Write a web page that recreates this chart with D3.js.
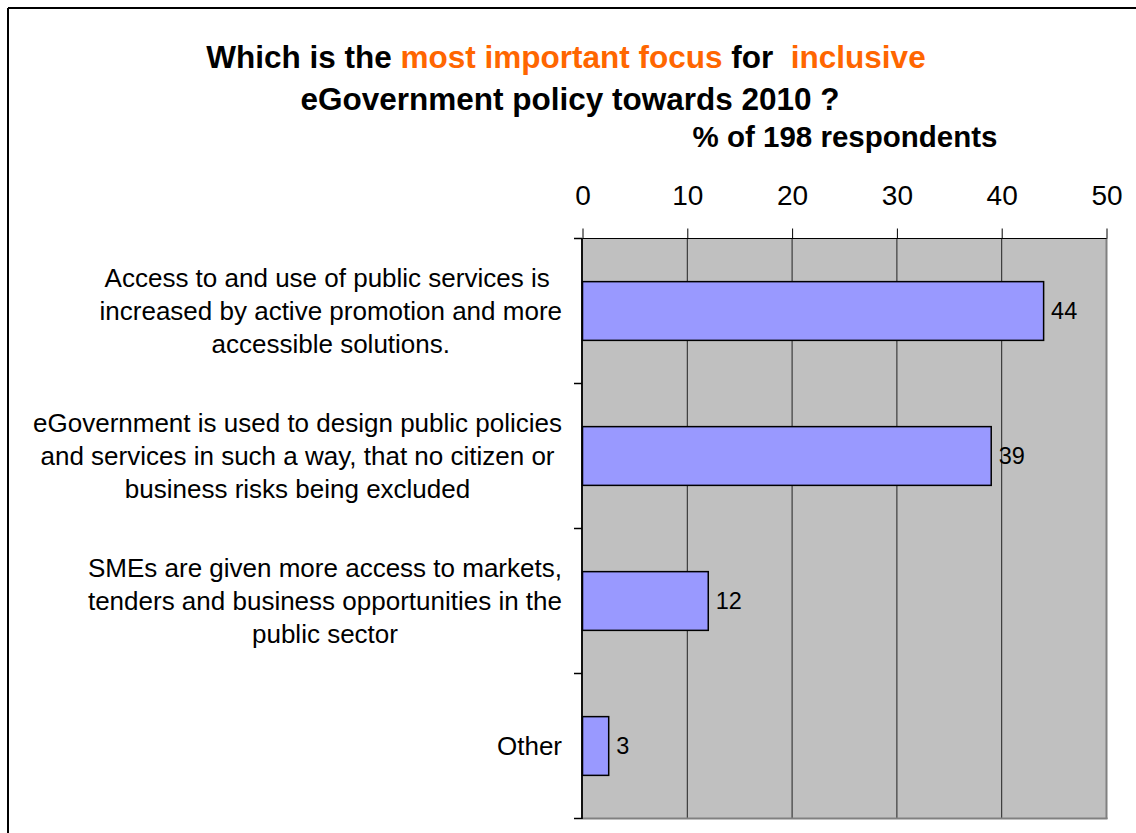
<!DOCTYPE html>
<html>
<head>
<meta charset="utf-8">
<script src="https://cdn.jsdelivr.net/npm/d3@7"></script>
<style>
  html, body { margin: 0; padding: 0; background: #fff; }
  svg { display: block; font-family: Arial, "Liberation Sans", sans-serif; }
</style>
</head>
<body>
<svg id="chart" width="1136" height="833"></svg>
<script>
const categories = [
  ["Access to and use of public services is ", "increased by active promotion and more", "accessible solutions."],
  ["eGovernment is used to design public policies", "and services in such a way, that no citizen or", "business risks being excluded"],
  ["SMEs are given more access to markets,", "tenders and business opportunities in the", "public sector"],
  ["Other"]
];
const values = [44, 39, 12, 2.5];
const xTicks = [0, 10, 20, 30, 40, 50];
const titleLine1 = [
  {text: "Which is the ", orange: false},
  {text: "most important focus", orange: true},
  {text: " for  ", orange: false},
  {text: "inclusive", orange: true}
];
const titleLine2 = "eGovernment policy towards 2010 ?";
const axisTitle = "% of 198 respondents";

const svg = d3.select("#chart");
const W = 1136, H = 833;
const plot = {left: 582, right: 1106, top: 238, bottom: 818};

// outer frame (top and left edges visible)
svg.append("line").attr("x1", 8).attr("x2", W).attr("y1", 8).attr("y2", 8)
  .attr("stroke", "#000").attr("stroke-width", 2);
svg.append("line").attr("x1", 8).attr("x2", 8).attr("y1", 8).attr("y2", H)
  .attr("stroke", "#000").attr("stroke-width", 2);

// title
const t1 = svg.append("text").attr("x", 566).attr("y", 68).attr("text-anchor", "middle")
  .attr("font-weight", "bold").attr("font-size", 31.5).attr("xml:space", "preserve");
titleLine1.forEach(p => t1.append("tspan").text(p.text).attr("fill", p.orange ? "#FF6600" : "#000"));
svg.append("text").attr("x", 570).attr("y", 110).attr("text-anchor", "middle")
  .attr("font-weight", "bold").attr("font-size", 31.5).text(titleLine2);
svg.append("text").attr("x", 845).attr("y", 147).attr("text-anchor", "middle")
  .attr("font-weight", "bold").attr("font-size", 29.5).text(axisTitle);

const x = d3.scaleLinear().domain([0, 50]).range([plot.left, plot.right]);
const y = d3.scaleBand().domain(d3.range(categories.length)).range([plot.top, plot.bottom])
  .paddingInner(0.595).paddingOuter(0.2975);

// plot background
svg.append("rect").attr("x", plot.left).attr("y", plot.top)
  .attr("width", plot.right - plot.left).attr("height", plot.bottom - plot.top)
  .attr("fill", "#C0C0C0");

// gridlines
svg.append("g").selectAll("line").data(xTicks.slice(1, -1)).join("line")
  .attr("x1", d => x(d) + 0.5).attr("x2", d => x(d) + 0.5)
  .attr("y1", plot.top).attr("y2", plot.bottom)
  .attr("stroke", "#222").attr("stroke-width", 1);

// right & bottom plot border (gray)
svg.append("line").attr("x1", plot.right + 0.5).attr("x2", plot.right + 0.5)
  .attr("y1", plot.top).attr("y2", plot.bottom + 1)
  .attr("stroke", "#808080").attr("stroke-width", 2);
svg.append("line").attr("x1", plot.left).attr("x2", plot.right + 1.5)
  .attr("y1", plot.bottom + 0.5).attr("y2", plot.bottom + 0.5)
  .attr("stroke", "#808080").attr("stroke-width", 2);

// top x axis
const xAxis = d3.axisTop(x).tickValues(xTicks).tickSize(10).tickPadding(24).tickFormat(d3.format("d"));
const gx = svg.append("g").attr("transform", `translate(0.5,${plot.top + 0.5})`).call(xAxis);
gx.select(".domain").attr("stroke", "#000").attr("d", `M${plot.left - 8},0H${plot.right}`);
gx.selectAll(".tick line").attr("stroke", "#000");
gx.selectAll(".tick text").attr("font-size", 28).attr("fill", "#000")
  .attr("font-family", "Arial, 'Liberation Sans', sans-serif");

// left category axis line and ticks
const bandEdges = d3.range(categories.length + 1).map(i => plot.top + i * (plot.bottom - plot.top) / categories.length);
svg.append("line").attr("x1", plot.left).attr("x2", plot.left)
  .attr("y1", plot.top).attr("y2", plot.bottom + 1)
  .attr("stroke", "#111").attr("stroke-width", 2);
svg.append("g").selectAll("line").data(bandEdges).join("line")
  .attr("x1", plot.left - 8).attr("x2", plot.left)
  .attr("y1", d => d + 0.5).attr("y2", d => d + 0.5)
  .attr("stroke", "#000").attr("stroke-width", 1.5);

// bars
svg.append("g").selectAll("rect").data(values).join("rect")
  .attr("x", x(0) + 0.5)
  .attr("y", (d, i) => y(i) + 0.5)
  .attr("width", d => x(d) - x(0))
  .attr("height", y.bandwidth())
  .attr("fill", "#9999FF").attr("stroke", "#000").attr("stroke-width", 1.5);

// value labels
svg.append("g").selectAll("text").data(values).join("text")
  .attr("x", d => x(d) + 8)
  .attr("y", (d, i) => y(i) + y.bandwidth() / 2)
  .attr("dy", "0.36em")
  .attr("font-size", 23.5)
  .text(d => Math.round(d));

// category labels: block right-aligned at 562, lines centred within block
const fontSize = 26, lineH = 33, rightEdge = 562;
categories.forEach((lines, i) => {
  const cy = y(i) + y.bandwidth() / 2;
  const g = svg.append("g");
  const texts = lines.map((ln, j) => g.append("text")
    .attr("font-size", fontSize).attr("xml:space", "preserve")
    .attr("y", cy + (j - (lines.length - 1) / 2) * lineH)
    .attr("dy", "0.36em")
    .attr("text-anchor", "middle")
    .text(ln));
  const maxW = d3.max(texts, t => t.node().getComputedTextLength());
  texts.forEach(t => t.attr("x", rightEdge - maxW / 2));
});
</script>
</body>
</html>
